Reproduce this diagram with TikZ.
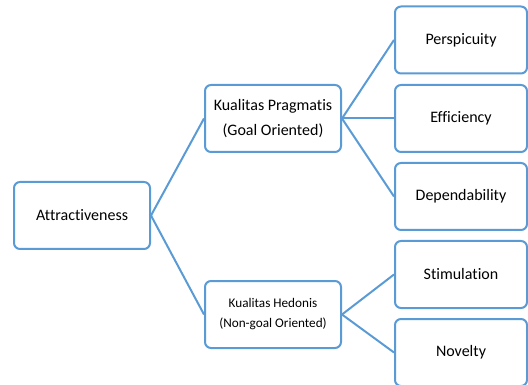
\documentclass[tikz,border=0pt]{standalone}
\usepackage{fontspec}
\setmainfont{Carlito}[Ligatures=NoCommon]
\usepackage{xcolor}
\definecolor{boxblue}{HTML}{5B9BD5}

\begin{document}
\begin{tikzpicture}[x=1pt, y=-1pt,
  box/.style={rectangle, rounded corners=6pt, draw=boxblue, line width=2pt,
              fill=white, minimum width=136pt, minimum height=67pt,
              inner sep=0pt, align=center, font=\fontsize{16}{25}\selectfont},
  smallbox/.style={box, font=\fontsize{13.2}{20}\selectfont},
  leaf/.style={box, minimum width=132pt},
  link/.style={boxblue, line width=2pt}
]
\useasboundingbox (0,0) rectangle (528,385);
\node[box] (att) at (82,215.5) {Attractiveness};
\node[box] (prag) at (273,118.5) {Kualitas Pragmatis\\(Goal Oriented)};
\node[smallbox] (hed) at (273,314.5) {Kualitas Hedonis\\(Non-goal Oriented)};
\node[leaf] (persp) at (461,40) {Perspicuity};
\node[leaf] (eff) at (461,118.5) {Efficiency};
\node[leaf] (dep) at (461,196.5) {Dependability};
\node[leaf] (stim) at (461,274.5) {Stimulation};
\node[leaf] (nov) at (461,352.5) {Novelty};

\draw[link] (att.east) -- (prag.west);
\draw[link] (att.east) -- (hed.west);
\draw[link] (prag.east) -- (persp.west);
\draw[link] (prag.east) -- (eff.west);
\draw[link] (prag.east) -- (dep.west);
\draw[link] (hed.east) -- (stim.west);
\draw[link] (hed.east) -- (nov.west);
\end{tikzpicture}
\end{document}
